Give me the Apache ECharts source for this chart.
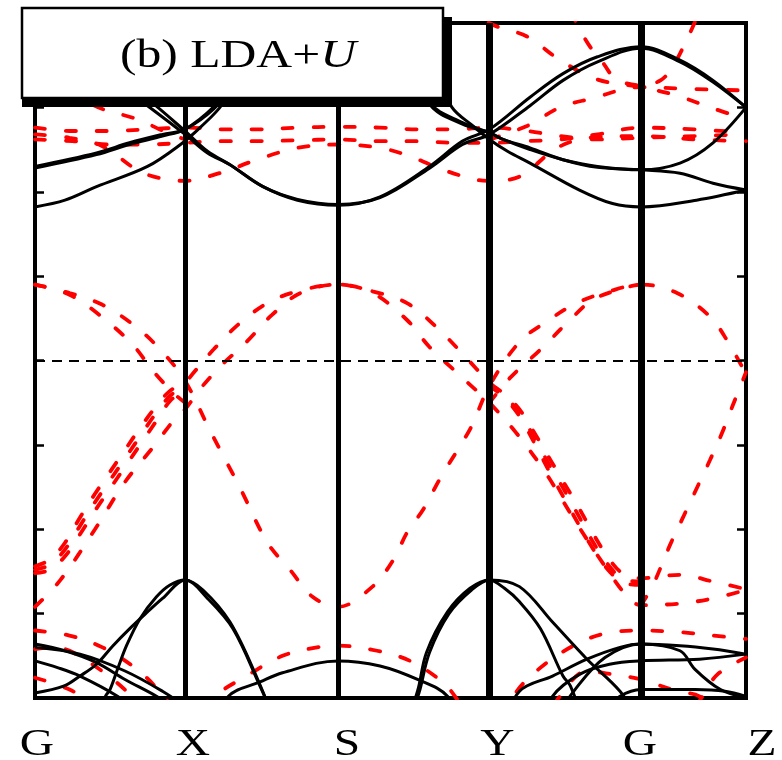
<!DOCTYPE html>
<html>
<head>
<meta charset="utf-8">
<script src="https://cdn.jsdelivr.net/npm/echarts@6/dist/echarts.min.js"></script>
<style>
  html, body { margin: 0; padding: 0; background: #fff; }
  #chart { width: 782px; height: 760px; }
</style>
</head>
<body>
<div id="chart"></div>
<script>
// High-symmetry points along the k-path (cumulative distance) and their names
const kPoints = [0, 1.00, 2.02, 3.03, 4.04, 4.74];
const kLabels = ['G', 'X', 'S', 'Y', 'G', 'Z'];
const energyMin = -2, energyMax = 2, energyStep = 0.5;

// ---- spin channel 1 (solid black): conduction bands ----
const bkA  = [[0,1.86],[0.30,1.80],[0.52,1.70],[0.75,1.55],[1.00,1.36],[1.15,1.24],[1.30,1.16],[1.52,1.03],[1.75,0.95],[2.02,0.92],[2.30,0.97],[2.63,1.15],[2.85,1.30],[3.03,1.37],[3.30,1.56],[3.52,1.70],[3.75,1.80],[4.04,1.86],[4.30,1.78],[4.52,1.66],[4.74,1.50]];
const bkA2 = [[0,1.85],[0.30,1.78],[0.52,1.66],[0.75,1.51],[1.00,1.34],[1.15,1.23],[1.30,1.16],[1.52,1.03],[1.75,0.955],[2.02,0.925],[2.30,0.965],[2.63,1.14],[2.85,1.28],[3.03,1.34],[3.30,1.51],[3.52,1.66],[3.75,1.77],[4.04,1.85],[4.30,1.77],[4.52,1.65],[4.74,1.50]];
const bkC  = [[0,1.14],[0.41,1.22],[0.63,1.28],[0.85,1.33],[1.00,1.37],[1.19,1.49],[1.40,1.70],[1.70,2.10],[2.02,2.30],[2.35,2.05],[2.63,1.52],[2.85,1.40],[3.03,1.35],[3.12,1.31],[3.30,1.25],[3.52,1.19],[3.75,1.15],[4.04,1.13],[4.30,1.17],[4.52,1.29],[4.74,1.50]];
const bkD  = [[0,1.15],[0.41,1.23],[0.63,1.29],[0.85,1.34],[1.00,1.37],[1.20,1.51],[1.40,1.72],[1.70,2.12],[2.02,2.32],[2.35,2.07],[2.63,1.53],[2.85,1.41],[3.03,1.35],[3.12,1.31],[3.30,1.26],[3.52,1.19],[3.75,1.145],[4.04,1.13],[4.30,1.11],[4.52,1.05],[4.74,1.01]];
const bkE  = [[0,0.91],[0.20,0.95],[0.41,1.03],[0.75,1.15],[0.97,1.28],[1.10,1.38],[1.25,1.52],[1.50,1.90],[2.02,2.40],[2.50,1.95],[2.78,1.50],[2.92,1.39],[3.03,1.31],[3.15,1.24],[3.30,1.17],[3.63,1.01],[3.85,0.93],[4.04,0.91],[4.41,0.95],[4.74,1.01]];

// ---- spin channel 1 (solid black): valence bands ----
const bkK1  = [[0,-1.97],[0.19,-1.93],[0.30,-1.87],[0.41,-1.80],[0.52,-1.69],[0.63,-1.59],[0.75,-1.49],[0.85,-1.41],[1.00,-1.30],[1.15,-1.41],[1.32,-1.59],[1.50,-1.93],[1.57,-2.07],[1.70,-2.35]];
const bkK2  = [[0.35,-2.35],[0.47,-1.99],[0.50,-1.95],[0.55,-1.83],[0.61,-1.69],[0.70,-1.53],[0.81,-1.40],[0.90,-1.33],[1.00,-1.30],[1.12,-1.36],[1.30,-1.55],[1.48,-1.88],[1.60,-2.15]];
const bkK3  = [[1.10,-2.30],[1.29,-1.99],[1.50,-1.905],[1.65,-1.85],[2.02,-1.78],[2.30,-1.81],[2.55,-1.89],[2.75,-1.99],[2.95,-2.30]];
const bkK4  = [[2.40,-2.35],[2.55,-1.96],[2.61,-1.73],[2.75,-1.49],[2.90,-1.35],[3.03,-1.30],[3.23,-1.34],[3.45,-1.55],[3.68,-1.77],[3.90,-1.96],[4.00,-2.10]];
const bkK5  = [[2.42,-2.35],[2.56,-1.97],[2.63,-1.73],[2.76,-1.50],[2.91,-1.36],[3.03,-1.30],[3.13,-1.35],[3.23,-1.43],[3.37,-1.59],[3.52,-1.87],[3.57,-1.93],[3.66,-2.15]];
const bkK6  = [[3.10,-2.20],[3.23,-1.96],[3.45,-1.87],[3.68,-1.77],[3.90,-1.70],[4.04,-1.68],[4.30,-1.72],[4.40,-1.83],[4.57,-1.95],[4.74,-2.00]];
const bkK7  = [[3.35,-2.20],[3.45,-1.99],[3.63,-1.86],[3.83,-1.80],[4.04,-1.78],[4.43,-1.77],[4.74,-1.74]];
const bkK8  = [[3.45,-2.15],[3.60,-1.95],[3.80,-1.76],[4.04,-1.68],[4.30,-1.69],[4.52,-1.71],[4.74,-1.74]];
const bkK9  = [[3.75,-2.10],[3.90,-1.99],[4.04,-1.95],[4.40,-1.95],[4.60,-1.96],[4.74,-1.99]];
const bkK10 = [[0,-1.68],[0.20,-1.72],[0.41,-1.79],[0.60,-1.89],[0.81,-1.99],[1.00,-2.10]];
const bkK11 = [[0,-1.78],[0.15,-1.82],[0.30,-1.87],[0.55,-1.99],[0.70,-2.10]];
const bkK12 = [[0,-1.70],[0.30,-1.74],[0.60,-1.84],[0.85,-1.96],[1.00,-2.05]];

// ---- spin channel 2 (dashed red): conduction bands ----
const rdT1  = [[0,1.38],[0.25,1.36],[0.50,1.36],[0.75,1.37],[1.00,1.38],[1.25,1.37],[1.50,1.37],[1.75,1.38],[2.02,1.385],[2.30,1.38],[2.55,1.37],[2.80,1.37],[3.03,1.38],[3.28,1.36],[3.50,1.33],[3.75,1.31],[4.04,1.32],[4.40,1.33],[4.74,1.34]];
const rdT2  = [[0,1.31],[0.25,1.30],[0.50,1.28],[0.75,1.28],[1.00,1.29],[1.25,1.30],[1.50,1.30],[1.75,1.305],[2.02,1.31],[2.30,1.30],[2.55,1.30],[2.80,1.29],[3.03,1.29],[3.28,1.30],[3.50,1.31],[3.75,1.34],[4.04,1.38],[4.40,1.37],[4.74,1.35]];
const rdT3  = [[0,1.34],[0.23,1.32],[0.45,1.27],[0.70,1.12],[0.90,1.07],[1.00,1.065],[1.23,1.11],[1.48,1.19],[1.75,1.26],[2.02,1.28],[2.30,1.26],[2.50,1.21],[2.72,1.13],[2.95,1.07],[3.03,1.065],[3.23,1.09],[3.48,1.26],[3.70,1.32],[4.04,1.33],[4.40,1.31],[4.74,1.30]];
const rdT4a = [[0,1.62],[0.25,1.57],[0.45,1.49],[0.68,1.43],[0.88,1.35],[1.00,1.31]];
const rdT4b = [[3.03,1.31],[3.28,1.39],[3.50,1.50],[3.70,1.55],[4.04,1.62],[4.35,1.61],[4.74,1.60]];
const rdT5  = [[0,1.62],[0.29,1.67],[0.54,1.78],[0.76,1.92],[1.00,2.02],[1.30,2.30],[1.70,2.60],[2.02,2.70],[2.40,2.55],[2.75,2.20],[3.03,2.00],[3.28,1.92],[3.50,1.78],[3.75,1.665],[4.04,1.62],[4.28,1.57],[4.50,1.50],[4.74,1.43]];
const rdT6  = [[3.40,2.40],[3.61,2.00],[3.70,1.86],[3.79,1.76],[3.87,1.67],[4.04,1.63],[4.17,1.66],[4.25,1.74],[4.35,1.91],[4.42,2.05],[4.55,2.35]];

// ---- spin channel 2 (dashed red): bands crossing the Fermi level ----
const rdP1  = [[0,0.45],[0.23,0.40],[0.45,0.33],[0.68,0.195],[0.85,0.05],[1.00,-0.12],[1.17,-0.42],[1.37,-0.76],[1.55,-1.08],[1.70,-1.24],[1.85,-1.40],[2.02,-1.46],[2.25,-1.34],[2.39,-1.18],[2.48,-1.02],[2.59,-0.88],[2.70,-0.70],[2.81,-0.54],[2.91,-0.39],[3.03,-0.15],[3.23,0.11],[3.41,0.23],[3.61,0.34],[3.83,0.41],[4.04,0.45],[4.28,0.40],[4.50,0.26],[4.62,0.11],[4.74,-0.08]];
const rdP2a = [[0,0.45],[0.23,0.39],[0.45,0.255],[0.65,0.095],[0.79,-0.065],[0.92,-0.19],[1.00,-0.25]];
const rdP2b = [[3.03,-0.25],[3.17,-0.10],[3.37,0.065],[3.55,0.225],[3.72,0.36],[3.97,0.44],[4.04,0.45]];
const rdQ1a = [[0,-1.22],[0.10,-1.18],[0.20,-1.08],[0.30,-0.93],[0.40,-0.79],[0.50,-0.66],[0.60,-0.53],[0.70,-0.40],[0.80,-0.28],[0.90,-0.18],[1.00,-0.13],[1.05,-0.08],[1.19,0.065],[1.37,0.225],[1.57,0.35],[1.79,0.42],[2.02,0.45],[2.25,0.41],[2.48,0.34],[2.68,0.195],[2.85,0.04],[3.03,-0.13],[3.13,-0.20],[3.23,-0.29],[3.33,-0.43],[3.43,-0.58],[3.53,-0.73],[3.63,-0.88],[3.73,-1.04],[3.83,-1.18],[3.93,-1.27],[4.04,-1.29],[4.30,-1.27],[4.52,-1.31],[4.74,-1.355]];
const rdQ1bL = [[0,-1.24],[0.10,-1.21],[0.20,-1.12],[0.30,-0.98],[0.40,-0.84],[0.50,-0.71],[0.60,-0.58],[0.70,-0.45],[0.80,-0.32],[0.90,-0.21],[1.00,-0.15]];
const rdQ1bR = [[3.03,-0.14],[3.13,-0.21],[3.23,-0.31],[3.33,-0.46],[3.43,-0.62],[3.53,-0.77],[3.63,-0.93],[3.73,-1.09],[3.83,-1.22],[3.93,-1.30],[4.04,-1.31]];
const rdQ1cL = [[0,-1.26],[0.10,-1.24],[0.20,-1.16],[0.30,-1.03],[0.40,-0.89],[0.50,-0.76],[0.60,-0.63],[0.70,-0.50],[0.80,-0.37],[0.90,-0.24],[1.00,-0.17]];
const rdQ1cR = [[3.03,-0.15],[3.13,-0.22],[3.23,-0.33],[3.33,-0.49],[3.43,-0.66],[3.53,-0.82],[3.63,-0.98],[3.73,-1.13],[3.83,-1.25],[3.93,-1.32],[4.04,-1.33]];
const rdQ2  = [[0,-1.46],[0.17,-1.30],[0.40,-1.00],[0.60,-0.72],[0.80,-0.50],[0.92,-0.36],[1.00,-0.29],[1.10,-0.17],[1.23,-0.04],[1.41,0.11],[1.58,0.27],[1.77,0.40],[2.02,0.45],[2.25,0.40],[2.48,0.24],[2.63,0.08],[2.81,-0.07],[2.97,-0.20],[3.03,-0.25],[3.20,-0.42],[3.40,-0.66],[3.60,-0.95],[3.80,-1.22],[3.95,-1.40],[4.04,-1.45],[4.30,-1.44],[4.52,-1.41],[4.74,-1.36]];
const rdR   = [[4.04,-1.45],[4.12,-1.33],[4.23,-1.10],[4.32,-0.93],[4.41,-0.76],[4.50,-0.59],[4.58,-0.43],[4.65,-0.27],[4.74,-0.07]];

// ---- spin channel 2 (dashed red): valence bands ----
const rdL1 = [[0,-1.60],[0.23,-1.63],[0.45,-1.70],[0.68,-1.83],[0.83,-1.96],[0.95,-2.10]];
const rdL2 = [[0,-1.71],[0.12,-1.70],[0.23,-1.72],[0.43,-1.83],[0.61,-1.96],[0.75,-2.10]];
const rdL3 = [[0,-1.88],[0.23,-1.95],[0.40,-2.05],[0.55,-2.20]];
const rdL4 = [[1.05,-2.25],[1.21,-1.99],[1.41,-1.87],[1.65,-1.75],[1.88,-1.70],[2.02,-1.69],[2.28,-1.72],[2.50,-1.78],[2.71,-1.90],[2.80,-1.99],[2.95,-2.20]];
const rdL5 = [[3.05,-2.30],[3.19,-1.99],[3.37,-1.82],[3.59,-1.69],[3.79,-1.62],[4.04,-1.60],[4.30,-1.61],[4.52,-1.63],[4.74,-1.65]];
const rdL6 = [[3.35,-2.20],[3.50,-1.99],[3.68,-1.84],[3.85,-1.86],[4.04,-1.89],[4.28,-1.96],[4.43,-1.99],[4.55,-2.10]];
const rdL7 = [[4.30,-2.20],[4.45,-1.99],[4.55,-1.86],[4.74,-1.76]];

const blackBands = [bkA, bkA2, bkC, bkD, bkE, bkK1, bkK2, bkK3, bkK4, bkK5, bkK6, bkK7, bkK8, bkK9, bkK10, bkK11, bkK12];
const redBands = [rdT1, rdT2, rdT3, rdT4a, rdT4b, rdT5, rdT6, rdP1, rdP2a, rdP2b,
                  rdQ1a, rdQ1bL, rdQ1bR, rdQ1cL, rdQ1cR, rdQ2, rdR,
                  rdL1, rdL2, rdL3, rdL4, rdL5, rdL6, rdL7];

// Styling / layout
const serif = '"Liberation Serif", "DejaVu Serif", serif';
const symLineWidth = [0, 5, 5, 7, 7, 0];
const labelNudge = [2, 8, 9, 8, -1, 16];

const chart = echarts.init(document.getElementById('chart'), null, { renderer: 'canvas' });

function bandSeries(data, red) {
  return {
    type: 'line',
    data: data,
    showSymbol: false,
    smooth: 0.35,
    silent: true,
    animation: false,
    clip: true,
    lineStyle: red
      ? { color: '#ff0000', width: 3.8, type: [10, 21], cap: 'round' }
      : { color: '#000000', width: 3 }
  };
}

const series = [];
redBands.forEach(b => series.push(bandSeries(b, true)));
blackBands.forEach(b => series.push(bandSeries(b, false)));

// Vertical lines at the interior high-symmetry points and the Fermi level
const markData = [];
kPoints.forEach((k, i) => {
  if (symLineWidth[i] > 0) {
    markData.push({ xAxis: k, lineStyle: { color: '#000', width: symLineWidth[i], type: 'solid' } });
  }
});
markData.push({ yAxis: 0, lineStyle: { color: '#000', width: 2, type: [10, 7] } });
series[0].markLine = {
  symbol: 'none',
  silent: true,
  animation: false,
  label: { show: false },
  data: markData
};

const yAxisCommon = {
  type: 'value',
  min: energyMin,
  max: energyMax,
  interval: energyStep,
  axisLine: { show: false },
  axisLabel: { show: false },
  splitLine: { show: false },
  axisTick: { show: true, inside: true, length: 9, lineStyle: { color: '#000', width: 2.5 } }
};

chart.setOption({
  animation: false,
  backgroundColor: '#ffffff',
  grid: {
    left: 35, right: 36, top: 23, bottom: 62,
    show: true, borderColor: '#000', borderWidth: 4, backgroundColor: 'transparent'
  },
  xAxis: {
    type: 'value', min: kPoints[0], max: kPoints[kPoints.length - 1],
    axisLine: { show: false }, axisTick: { show: false },
    axisLabel: { show: false }, splitLine: { show: false }
  },
  yAxis: [
    Object.assign({ position: 'left' }, yAxisCommon),
    Object.assign({ position: 'right' }, yAxisCommon)
  ],
  series: series
});

// Path labels below the frame, placed with the x scale
const labelEls = kLabels.map((name, i) => {
  const px = chart.convertToPixel({ xAxisIndex: 0, yAxisIndex: 0 }, [kPoints[i], 0])[0];
  return {
    type: 'text',
    x: px + labelNudge[i],
    y: 745,
    scaleX: 1.25,
    silent: true,
    style: {
      text: name,
      fontFamily: serif,
      fontSize: 38,
      fill: '#000',
      align: 'center',
      verticalAlign: 'middle'
    }
  };
});

// Panel title box with drop shadow
const titleEls = [
  { type: 'rect', z: 100, shape: { x: 440, y: 17, width: 12, height: 90 }, style: { fill: '#000' }, silent: true },
  { type: 'rect', z: 100, shape: { x: 22, y: 95, width: 430, height: 12 }, style: { fill: '#000' }, silent: true },
  { type: 'rect', z: 101, shape: { x: 22, y: 8, width: 421, height: 90 }, style: { fill: '#fff', stroke: '#000', lineWidth: 2.5 }, silent: true },
  {
    type: 'text', z: 102, x: 238, y: 56, scaleX: 1.24, silent: true,
    style: {
      text: '{n|(b) LDA+}{i|U}',
      align: 'center',
      verticalAlign: 'middle',
      fill: '#000',
      rich: {
        n: { fontFamily: serif, fontSize: 40, fill: '#000' },
        i: { fontFamily: serif, fontSize: 40, fontStyle: 'italic', fill: '#000' }
      }
    }
  }
];

chart.setOption({ graphic: { elements: labelEls.concat(titleEls) } });
</script>
</body>
</html>
